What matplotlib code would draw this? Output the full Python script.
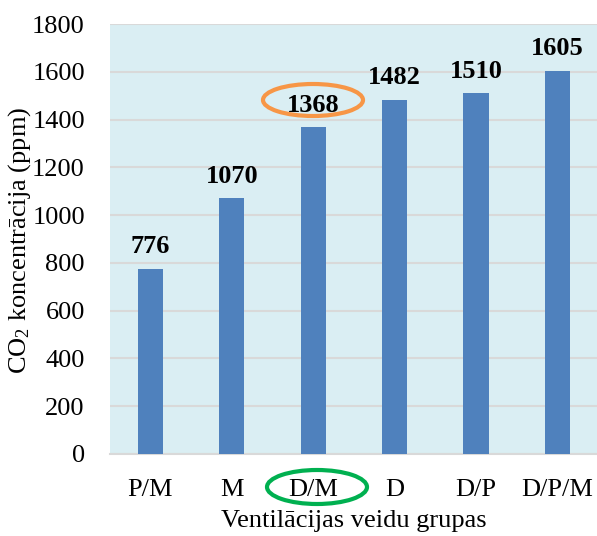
import matplotlib
matplotlib.use("Agg")
import matplotlib.pyplot as plt
from matplotlib.patches import Ellipse

categories = ["P/M", "M", "D/M", "D", "D/P", "D/P/M"]
values = [776, 1070, 1368, 1482, 1510, 1605]
yticks = [0, 200, 400, 600, 800, 1000, 1200, 1400, 1600, 1800]

plt.rcParams['font.family'] = ['Liberation Serif', 'DejaVu Serif']
plt.rcParams['mathtext.fontset'] = 'custom'
plt.rcParams['mathtext.rm'] = 'Liberation Serif'
plt.rcParams['mathtext.it'] = 'Liberation Serif:italic'

fig = plt.figure(figsize=(5.97, 5.36), dpi=100)
ax = fig.add_axes([0.184, 0.153, 0.816, 0.802])
ax.set_facecolor('#DAEEF3')

x = list(range(len(categories)))
ax.bar(x, values, width=0.31, color='#4F81BD', zorder=3)
for xi, v in zip(x, values):
    ax.text(xi, v + 45, str(v), ha='center', va='bottom', fontsize=19, fontweight='bold', zorder=4)

ax.set_xlim(-0.4975, 5.485)
ax.set_ylim(0, 1800)
ax.set_yticks(yticks)
ax.set_xticks(x)
ax.set_xticklabels(categories)
ax.tick_params(axis='both', length=0, labelsize=19)
ax.tick_params(axis='x', pad=18)
ax.tick_params(axis='y', pad=18)
ax.grid(axis='y', color='#D9D9D9', linewidth=1.5, zorder=1)
for s in ['top', 'right', 'left']:
    ax.spines[s].set_visible(False)
ax.spines['bottom'].set_color('#D9D9D9')
ax.spines['bottom'].set_linewidth(1.5)

ax.set_ylabel('CO$_2$ koncentrācija (ppm)', fontsize=19)
ax.yaxis.set_label_coords(-0.185, 0.498)
ax.yaxis.label.set_va('center')
ax.set_xlabel('Ventilācijas veidu grupas', fontsize=19)
ax.xaxis.set_label_coords(0.5, -0.156)
ax.xaxis.label.set_va('center')

W, H = 597, 536
e1 = Ellipse((313 / W, 1 - 100 / H), 100 / W, 32 / H, transform=fig.transFigure,
             fill=False, edgecolor='#F79646', linewidth=3, zorder=10)
e2 = Ellipse((317 / W, 1 - 487 / H), 100 / W, 34 / H, transform=fig.transFigure,
             fill=False, edgecolor='#00B050', linewidth=3, zorder=10)
fig.patches.extend([e1, e2])

fig.savefig('out.png', dpi=100)
